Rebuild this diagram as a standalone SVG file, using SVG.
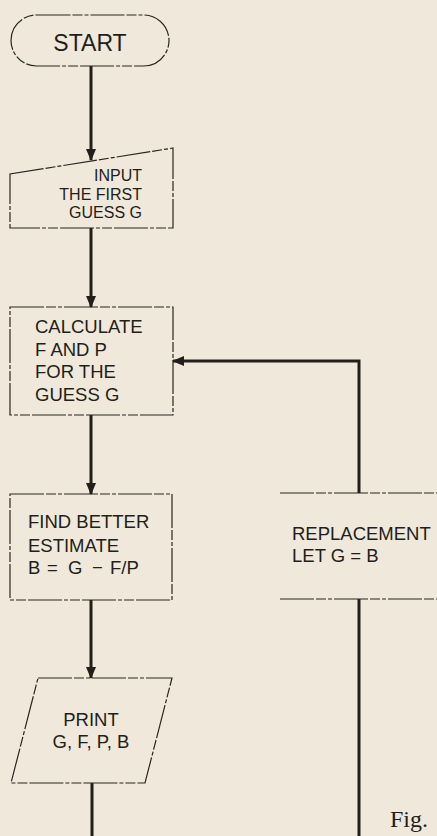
<svg xmlns="http://www.w3.org/2000/svg" width="437" height="836" viewBox="0 0 437 836">
<defs>
<marker id="arr" viewBox="0 0 12 12" refX="11" refY="6" markerWidth="12" markerHeight="12" markerUnits="userSpaceOnUse" orient="auto">
<path d="M0,1 L12,6 L0,11 Z" fill="#221e1b"/>
</marker>
<style>
.bg{fill:#f0e8da}
.shape{fill:none;stroke:#2a2521;stroke-width:1.2;stroke-dasharray:34 2 10 2 4 2}
.conn{fill:none;stroke:#221e1b;stroke-width:3}
.t{font-family:"Liberation Sans",Arial,sans-serif;font-size:18.5px;fill:#221e1b}
.s{font-size:16px}
.big{font-size:23px}
.fig{font-family:"Liberation Serif","Times New Roman",serif;font-size:24px;fill:#221e1b}
</style>
</defs>
<rect class="bg" x="0" y="0" width="437" height="836"/>
<g id="connectors">
<line class="conn" x1="91" y1="66" x2="91" y2="160" marker-end="url(#arr)"/>
<line class="conn" x1="91" y1="228" x2="91" y2="307" marker-end="url(#arr)"/>
<line class="conn" x1="91" y1="415" x2="91" y2="494" marker-end="url(#arr)"/>
<line class="conn" x1="91" y1="600" x2="91" y2="678" marker-end="url(#arr)"/>
<line class="conn" x1="92" y1="783" x2="92" y2="836"/>
<polyline class="conn" points="359,493 359,361 173,361" marker-end="url(#arr)"/>
<line class="conn" x1="359" y1="599" x2="359" y2="836"/>
</g>
<g id="start">
<rect class="shape" x="11" y="15" width="158" height="51" rx="25.5" ry="25.5"/>
<text class="t big" x="90" y="51" text-anchor="middle">START</text>
</g>
<g id="input">
<path class="shape" d="M10,174 L173,148 L173,228 L10,228 Z"/>
<text class="t s" x="142" y="181" text-anchor="end">INPUT</text>
<text class="t s" x="142" y="199.5" text-anchor="end">THE FIRST</text>
<text class="t s" x="142" y="218" text-anchor="end">GUESS G</text>
</g>
<g id="calculate">
<rect class="shape" x="10" y="307" width="163" height="108"/>
<text class="t" x="35" y="333">CALCULATE</text>
<text class="t" x="35" y="356">F AND P</text>
<text class="t" x="35" y="378">FOR THE</text>
<text class="t" x="35" y="401">GUESS G</text>
</g>
<g id="find">
<rect class="shape" x="10" y="494" width="162" height="106"/>
<text class="t" x="28" y="528">FIND BETTER</text>
<text class="t" x="28" y="552">ESTIMATE</text>
<text class="t" y="574"><tspan x="28">B</tspan><tspan x="47">=</tspan><tspan x="68">G</tspan><tspan x="92">−</tspan><tspan x="110">F/P</tspan></text>
</g>
<g id="print">
<path class="shape" d="M38,678 L172,678 L145,783 L11,783 Z"/>
<text class="t" x="91" y="726" text-anchor="middle">PRINT</text>
<text class="t" x="91" y="748" text-anchor="middle">G, F, P, B</text>
</g>
<g id="replacement">
<line class="shape" x1="280" y1="493" x2="437" y2="493"/>
<line class="shape" x1="280" y1="599" x2="437" y2="599"/>
<text class="t" x="292" y="540">REPLACEMENT</text>
<text class="t" x="292" y="562">LET G = B</text>
</g>
<text class="fig" x="390" y="827">Fig.</text>
</svg>
